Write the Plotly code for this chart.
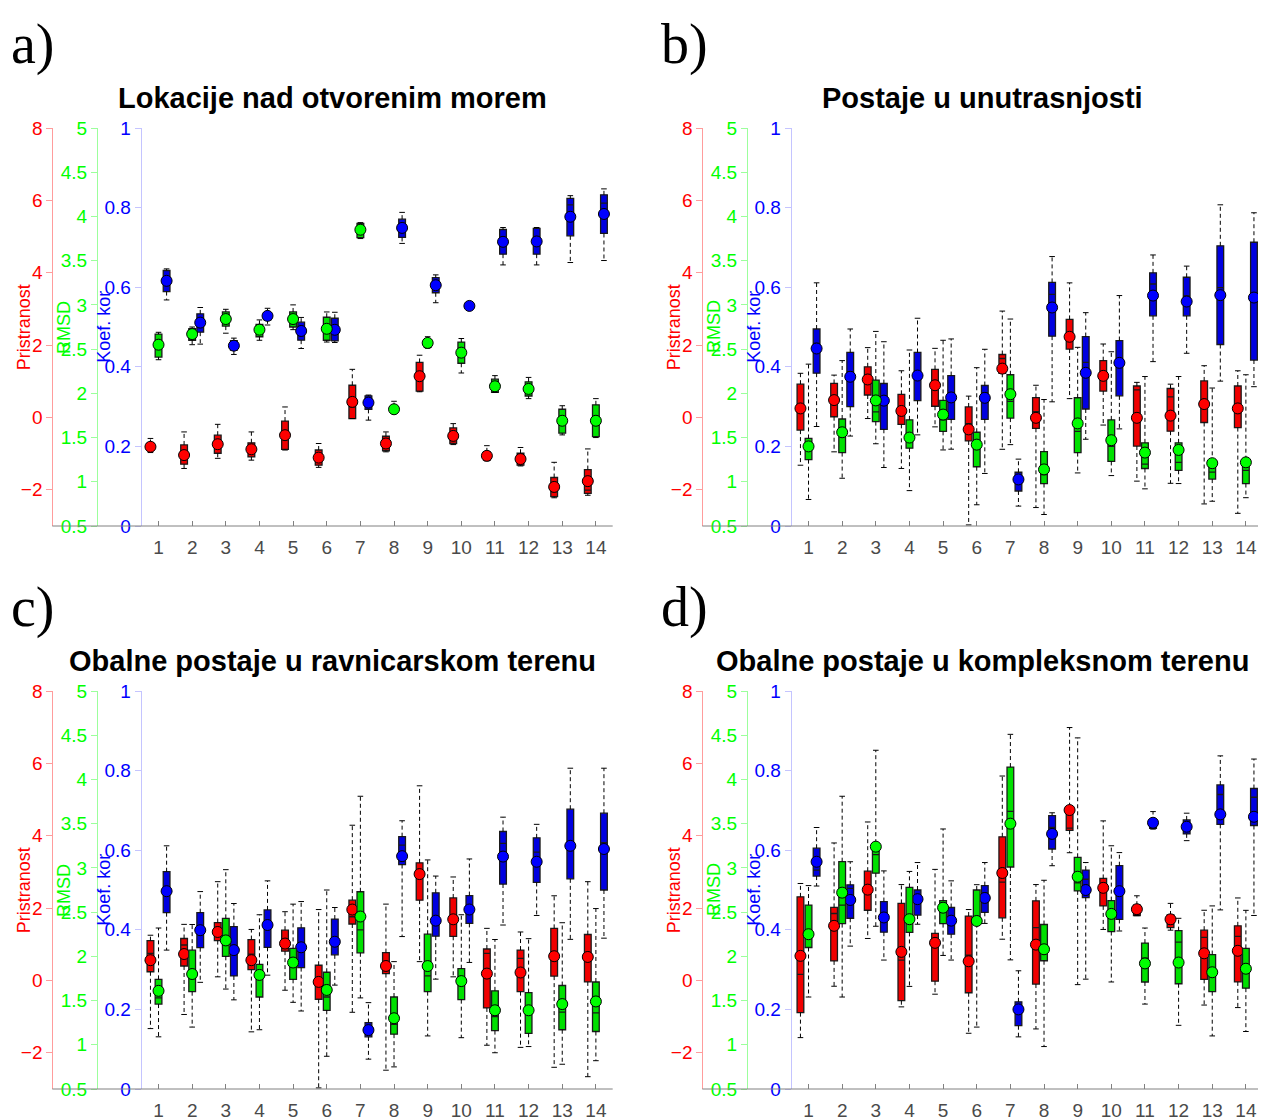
import plotly.graph_objects as go

W, H = 1266, 1120
PAGE_PAD = 8            # default body margin of the html page
FIG_W, FIG_H = W - PAGE_PAD, H - PAGE_PAD

STATIONS = list(range(1, 15))
PANEL_LETTERS = ["a)", "b)", "c)", "d)"]
PANEL_TITLES = [
    "Lokacije nad otvorenim morem",
    "Postaje u unutrasnjosti",
    "Obalne postaje u ravnicarskom terenu",
    "Obalne postaje u kompleksnom terenu",
]
AXIS_TITLES = ["Pristranost", "RMSD", "Koef. kor"]
AXIS_RANGES = [(-3, 8), (0.5, 5), (0, 1)]
AXIS_TICKS = [
    [-2, 0, 2, 4, 6, 8],
    [0.5, 1, 1.5, 2, 2.5, 3, 3.5, 4, 4.5, 5],
    [0, 0.2, 0.4, 0.6, 0.8, 1],
]

# ---- a) Lokacije nad otvorenim morem --------------------------------------
A_BIAS_LO = [-0.97, -1.41, -1.13, -1.18, -0.90, -1.38, -0.03, -0.95, 0.71, -0.75, -1.20, -1.34, -2.22, -2.15]
A_BIAS_Q1 = [-0.90, -1.29, -0.99, -1.09, -0.88, -1.32, -0.03, -0.92, 0.73, -0.72, -1.18, -1.32, -2.19, -2.10]
A_BIAS_MED = [-0.83, -1.13, -0.76, -0.90, -0.58, -1.13, 0.29, -0.75, 1.08, -0.49, -1.09, -1.13, -2.05, -2.01]
A_BIAS_Q3 = [-0.72, -0.76, -0.49, -0.70, -0.10, -0.90, 0.89, -0.52, 1.52, -0.29, -0.95, -0.99, -1.66, -1.44]
A_BIAS_HI = [-0.58, -0.40, -0.19, -0.40, 0.29, -0.72, 1.33, -0.40, 1.72, -0.17, -0.78, -0.83, -1.24, -0.87]
A_BIAS_MEAN = [-0.81, -1.04, -0.74, -0.88, -0.49, -1.11, 0.43, -0.72, 1.14, -0.51, -1.06, -1.15, -1.92, -1.76]

A_RMSD_LO = [2.38, 2.55, 2.68, 2.60, 2.72, 2.58, 3.75, 1.79, 2.51, 2.23, 2.01, 1.94, 1.53, 1.50]
A_RMSD_Q1 = [2.41, 2.60, 2.76, 2.64, 2.75, 2.60, 3.76, 1.79, 2.52, 2.34, 2.01, 1.97, 1.55, 1.51]
A_RMSD_MED = [2.57, 2.69, 2.85, 2.70, 2.82, 2.77, 3.84, 1.82, 2.56, 2.47, 2.08, 2.06, 1.70, 1.68]
A_RMSD_Q3 = [2.67, 2.73, 2.92, 2.78, 2.92, 2.86, 3.92, 1.85, 2.60, 2.58, 2.16, 2.13, 1.82, 1.87]
A_RMSD_HI = [2.69, 2.75, 2.95, 2.83, 3.00, 2.92, 3.93, 1.91, 2.64, 2.62, 2.20, 2.18, 1.86, 1.94]
A_RMSD_MEAN = [2.55, 2.67, 2.84, 2.72, 2.84, 2.73, 3.85, 1.82, 2.57, 2.46, 2.08, 2.05, 1.69, 1.69]

A_CORR_LO = [0.568, 0.457, 0.431, 0.505, 0.446, 0.461, 0.266, 0.710, 0.561, 0.553, 0.656, 0.656, 0.662, 0.667]
A_CORR_Q1 = [0.589, 0.487, 0.442, 0.518, 0.467, 0.465, 0.293, 0.725, 0.586, 0.553, 0.683, 0.683, 0.729, 0.735]
A_CORR_MED = [0.622, 0.509, 0.452, 0.526, 0.488, 0.497, 0.317, 0.750, 0.601, 0.553, 0.714, 0.727, 0.807, 0.811]
A_CORR_Q3 = [0.642, 0.533, 0.466, 0.536, 0.512, 0.522, 0.327, 0.771, 0.624, 0.553, 0.745, 0.748, 0.823, 0.832]
A_CORR_HI = [0.646, 0.549, 0.472, 0.547, 0.524, 0.537, 0.329, 0.788, 0.631, 0.553, 0.750, 0.750, 0.830, 0.847]
A_CORR_MEAN = [0.616, 0.511, 0.453, 0.528, 0.490, 0.493, 0.310, 0.749, 0.605, 0.553, 0.714, 0.715, 0.777, 0.784]

# ---- b) Postaje u unutrasnjosti -------------------------------------------
B_BIAS_LO = [-1.32, -0.95, -0.03, -1.41, -0.26, -2.97, -0.88, -2.49, 0.52, -0.21, -1.76, -1.82, -2.39, -2.65]
B_BIAS_Q1 = [-0.35, 0.02, 0.62, -0.19, 0.31, -0.65, 1.22, -0.30, 1.89, 0.73, -0.79, -0.38, -0.14, -0.28]
B_BIAS_MED = [0.25, 0.48, 1.17, 0.20, 0.85, -0.17, 1.63, 0.16, 2.23, 1.17, 0.76, 0.57, 0.39, 0.27]
B_BIAS_Q3 = [0.92, 0.94, 1.40, 0.64, 1.33, 0.29, 1.74, 0.55, 2.71, 1.57, 0.87, 0.80, 1.01, 0.87]
B_BIAS_HI = [1.22, 1.17, 1.93, 1.29, 1.91, 0.59, 2.94, 0.89, 3.72, 2.03, 0.97, 0.92, 1.43, 1.29]
B_BIAS_MEAN = [0.25, 0.48, 1.05, 0.18, 0.89, -0.33, 1.35, -0.01, 2.23, 1.15, -0.01, 0.05, 0.37, 0.25]

B_RMSD_LO = [0.80, 1.04, 1.43, 0.90, 1.36, 0.74, 1.42, 0.63, 1.10, 1.07, 0.92, 0.98, 0.78, 0.82]
B_RMSD_Q1 = [1.25, 1.33, 1.68, 1.38, 1.57, 1.17, 1.72, 0.98, 1.33, 1.23, 1.15, 1.13, 1.03, 0.98]
B_RMSD_MED = [1.40, 1.51, 1.79, 1.49, 1.70, 1.42, 1.91, 1.08, 1.57, 1.40, 1.20, 1.22, 1.11, 1.13]
B_RMSD_Q3 = [1.49, 1.71, 2.15, 1.70, 1.92, 1.56, 2.21, 1.34, 1.95, 1.70, 1.44, 1.44, 1.22, 1.25]
B_RMSD_HI = [2.33, 2.37, 2.70, 2.49, 2.60, 2.29, 2.84, 1.93, 2.52, 2.47, 2.19, 2.19, 2.06, 2.21]
B_RMSD_MEAN = [1.40, 1.56, 1.92, 1.50, 1.76, 1.42, 1.99, 1.14, 1.66, 1.47, 1.33, 1.36, 1.21, 1.22]

B_CORR_LO = [0.250, 0.226, 0.147, 0.229, 0.193, 0.132, 0.050, 0.312, 0.218, 0.244, 0.413, 0.434, 0.364, 0.350]
B_CORR_Q1 = [0.384, 0.300, 0.243, 0.315, 0.268, 0.268, 0.088, 0.477, 0.294, 0.327, 0.528, 0.528, 0.456, 0.417]
B_CORR_MED = [0.459, 0.388, 0.317, 0.379, 0.333, 0.335, 0.124, 0.582, 0.411, 0.410, 0.608, 0.578, 0.599, 0.574]
B_CORR_Q3 = [0.495, 0.436, 0.358, 0.436, 0.378, 0.353, 0.135, 0.612, 0.476, 0.466, 0.636, 0.625, 0.704, 0.713]
B_CORR_HI = [0.611, 0.495, 0.463, 0.522, 0.470, 0.444, 0.168, 0.677, 0.536, 0.579, 0.681, 0.653, 0.807, 0.787]
B_CORR_MEAN = [0.446, 0.375, 0.315, 0.378, 0.323, 0.322, 0.117, 0.549, 0.385, 0.410, 0.579, 0.564, 0.580, 0.574]

# ---- c) Obalne postaje u ravnicarskom terenu ------------------------------
C_BIAS_LO = [-1.33, -0.94, 0.10, -1.42, -0.27, -2.97, -0.88, -2.48, 0.52, 0.10, -1.79, -1.85, -2.40, -2.66]
C_BIAS_Q1 = [0.24, 0.40, 1.10, 0.30, 0.81, -0.52, 1.56, 0.19, 2.22, 1.22, -0.76, -0.31, 0.12, -0.04]
C_BIAS_MED = [0.75, 0.98, 1.30, 0.73, 1.02, -0.13, 1.76, 0.49, 2.94, 1.69, 0.75, 0.61, 0.67, 0.65]
C_BIAS_Q3 = [1.10, 1.16, 1.60, 1.13, 1.39, 0.42, 2.22, 0.77, 3.25, 2.28, 0.87, 0.84, 1.44, 1.27]
C_BIAS_HI = [1.25, 1.55, 2.73, 1.41, 1.90, 1.96, 4.29, 2.11, 5.38, 2.86, 1.44, 1.34, 2.34, 2.73]
C_BIAS_MEAN = [0.56, 0.73, 1.34, 0.56, 1.02, -0.04, 1.96, 0.40, 2.94, 1.69, 0.19, 0.22, 0.67, 0.65]

C_RMSD_LO = [1.09, 1.20, 1.63, 1.17, 1.48, 0.87, 1.53, 0.75, 1.10, 1.08, 0.91, 0.98, 0.78, 0.82]
C_RMSD_Q1 = [1.46, 1.60, 2.00, 1.54, 1.74, 1.39, 2.04, 1.12, 1.60, 1.51, 1.16, 1.13, 1.17, 1.15]
C_RMSD_MED = [1.53, 1.80, 2.18, 1.80, 1.93, 1.54, 2.30, 1.23, 1.78, 1.72, 1.32, 1.39, 1.37, 1.36]
C_RMSD_Q3 = [1.74, 2.07, 2.43, 1.91, 2.09, 1.82, 2.73, 1.54, 2.25, 1.86, 1.61, 1.59, 1.67, 1.71]
C_RMSD_HI = [2.32, 2.36, 2.98, 2.47, 2.59, 2.75, 3.81, 1.94, 3.09, 2.47, 2.19, 2.20, 2.38, 2.54]
C_RMSD_MEAN = [1.61, 1.80, 2.18, 1.79, 1.93, 1.62, 2.45, 1.30, 1.89, 1.72, 1.39, 1.39, 1.46, 1.49]

C_CORR_LO = [0.349, 0.268, 0.224, 0.286, 0.196, 0.261, 0.075, 0.383, 0.276, 0.318, 0.412, 0.436, 0.376, 0.379]
C_CORR_Q1 = [0.443, 0.355, 0.284, 0.356, 0.305, 0.337, 0.131, 0.564, 0.384, 0.416, 0.515, 0.519, 0.528, 0.500]
C_CORR_MED = [0.497, 0.401, 0.349, 0.412, 0.356, 0.370, 0.138, 0.613, 0.423, 0.451, 0.617, 0.595, 0.611, 0.619]
C_CORR_Q3 = [0.546, 0.443, 0.408, 0.450, 0.405, 0.427, 0.167, 0.634, 0.493, 0.486, 0.647, 0.631, 0.703, 0.693]
C_CORR_HI = [0.611, 0.496, 0.466, 0.523, 0.471, 0.456, 0.217, 0.674, 0.535, 0.578, 0.683, 0.665, 0.806, 0.806]
C_CORR_MEAN = [0.497, 0.399, 0.349, 0.412, 0.356, 0.370, 0.148, 0.585, 0.423, 0.451, 0.584, 0.571, 0.611, 0.603]

# ---- d) Obalne postaje u kompleksnom terenu -------------------------------
D_BIAS_LO = [-1.58, -0.16, 1.16, -0.73, -0.38, -1.46, 1.14, -1.34, 3.53, 1.41, 1.79, 1.39, -0.68, -0.75]
D_BIAS_Q1 = [-0.89, 0.54, 1.94, -0.56, -0.02, -0.34, 1.73, -0.10, 4.15, 2.06, 1.79, 1.46, 0.03, -0.04]
D_BIAS_MED = [0.17, 1.85, 2.51, 0.56, 1.04, 0.70, 2.72, 1.46, 4.21, 2.68, 1.85, 1.55, 1.19, 1.22]
D_BIAS_Q3 = [2.31, 2.02, 3.02, 2.13, 1.30, 1.78, 3.97, 2.20, 4.80, 2.82, 2.08, 1.81, 1.39, 1.51]
D_BIAS_HI = [2.68, 3.80, 4.38, 2.65, 3.07, 1.96, 5.65, 2.65, 6.99, 4.41, 2.34, 2.13, 1.94, 2.28]
D_BIAS_MEAN = [0.68, 1.51, 2.51, 0.79, 1.04, 0.53, 2.97, 0.99, 4.71, 2.56, 1.97, 1.69, 0.75, 0.82]

D_RMSD_LO = [1.54, 1.54, 2.34, 1.66, 2.01, 1.20, 1.96, 0.98, 1.68, 1.71, 1.46, 1.22, 1.10, 1.15]
D_RMSD_Q1 = [2.10, 2.37, 2.94, 2.27, 2.37, 2.37, 3.01, 1.95, 2.74, 2.28, 1.71, 1.69, 1.60, 1.64]
D_RMSD_MED = [2.25, 2.58, 3.15, 2.42, 2.51, 2.40, 3.64, 2.08, 2.83, 2.43, 1.98, 2.16, 1.82, 1.86]
D_RMSD_Q3 = [2.58, 3.07, 3.20, 2.78, 2.63, 2.75, 4.14, 2.36, 3.12, 2.63, 2.15, 2.29, 2.02, 2.09]
D_RMSD_HI = [2.80, 3.81, 4.33, 2.96, 3.44, 2.81, 4.51, 2.86, 4.47, 3.25, 2.32, 2.43, 2.57, 2.52]
D_RMSD_MEAN = [2.25, 2.72, 3.24, 2.42, 2.55, 2.40, 3.50, 2.08, 2.90, 2.48, 1.92, 1.93, 1.82, 1.86]

D_CORR_LO = [0.510, 0.359, 0.324, 0.414, 0.324, 0.416, 0.131, 0.561, 0.276, 0.397, 0.653, 0.624, 0.450, 0.436]
D_CORR_Q1 = [0.535, 0.429, 0.394, 0.437, 0.389, 0.444, 0.159, 0.603, 0.481, 0.426, 0.655, 0.641, 0.665, 0.662]
D_CORR_MED = [0.550, 0.504, 0.431, 0.477, 0.423, 0.492, 0.200, 0.657, 0.527, 0.497, 0.661, 0.659, 0.740, 0.733]
D_CORR_Q3 = [0.605, 0.513, 0.471, 0.500, 0.456, 0.511, 0.219, 0.687, 0.550, 0.561, 0.672, 0.676, 0.764, 0.755]
D_CORR_HI = [0.657, 0.571, 0.548, 0.569, 0.523, 0.569, 0.297, 0.694, 0.569, 0.594, 0.697, 0.693, 0.837, 0.829]
D_CORR_MEAN = [0.571, 0.475, 0.431, 0.477, 0.423, 0.480, 0.200, 0.641, 0.500, 0.497, 0.669, 0.659, 0.690, 0.684]

PANELS = [
    [
        (A_BIAS_LO, A_BIAS_Q1, A_BIAS_MED, A_BIAS_Q3, A_BIAS_HI, A_BIAS_MEAN),
        (A_RMSD_LO, A_RMSD_Q1, A_RMSD_MED, A_RMSD_Q3, A_RMSD_HI, A_RMSD_MEAN),
        (A_CORR_LO, A_CORR_Q1, A_CORR_MED, A_CORR_Q3, A_CORR_HI, A_CORR_MEAN),
    ],
    [
        (B_BIAS_LO, B_BIAS_Q1, B_BIAS_MED, B_BIAS_Q3, B_BIAS_HI, B_BIAS_MEAN),
        (B_RMSD_LO, B_RMSD_Q1, B_RMSD_MED, B_RMSD_Q3, B_RMSD_HI, B_RMSD_MEAN),
        (B_CORR_LO, B_CORR_Q1, B_CORR_MED, B_CORR_Q3, B_CORR_HI, B_CORR_MEAN),
    ],
    [
        (C_BIAS_LO, C_BIAS_Q1, C_BIAS_MED, C_BIAS_Q3, C_BIAS_HI, C_BIAS_MEAN),
        (C_RMSD_LO, C_RMSD_Q1, C_RMSD_MED, C_RMSD_Q3, C_RMSD_HI, C_RMSD_MEAN),
        (C_CORR_LO, C_CORR_Q1, C_CORR_MED, C_CORR_Q3, C_CORR_HI, C_CORR_MEAN),
    ],
    [
        (D_BIAS_LO, D_BIAS_Q1, D_BIAS_MED, D_BIAS_Q3, D_BIAS_HI, D_BIAS_MEAN),
        (D_RMSD_LO, D_RMSD_Q1, D_RMSD_MED, D_RMSD_Q3, D_RMSD_HI, D_RMSD_MEAN),
        (D_CORR_LO, D_CORR_Q1, D_CORR_MED, D_CORR_Q3, D_CORR_HI, D_CORR_MEAN),
    ],
]

TXT = ["#ff0000", "#00ff00", "#0000ff"]
BOX_FILL = ["#f00000", "#00e000", "#0000e0"]
DOT = ["#ff0000", "#00ff00", "#0000ff"]
AXLINE = ["#ff9c9c", "#9cff9c", "#c4c4ff"]
OFFSETS = [-0.24, 0.0, 0.24]
BOX_W = 0.2

FONT = "Liberation Sans"

# page-pixel geometry of the 2x2 layout (red axis x, top / bottom y)
COL_X = [52.3, 702.3]
ROW_Y = [(128, 526), (691, 1089)]
AX_STEP = 44.7          # spacing between the three stacked left axes
PLOT_W = 560.4          # red axis -> right edge


def fx(x):
    return (x - PAGE_PAD) / FIG_W


def fy(y):
    return 1 - (y - PAGE_PAD) / FIG_H


fig = go.Figure()
layout = {}
annotations = []
shapes = []

for p, series in enumerate(PANELS):
    x0 = COL_X[p % 2]
    ytop, ybot = ROW_Y[p // 2]
    xid = "x" if p == 0 else f"x{p + 1}"
    yids = [f"y{3 * p + k + 1}" if 3 * p + k else "y" for k in range(3)]
    base = yids[2]

    for k in range(3):
        ax = dict(
            domain=[fy(ybot), fy(ytop)],
            range=list(AXIS_RANGES[k]),
            tickvals=AXIS_TICKS[k],
            tickfont=dict(family=FONT, size=19, color=TXT[k]),
            ticks="outside", ticklen=6, tickcolor=AXLINE[k], tickwidth=1,
            showline=True, linecolor=AXLINE[k], linewidth=1,
            showgrid=False, zeroline=False, automargin=False, side="left",
        )
        if k == 2:
            ax.update(anchor=xid)
        else:
            ax.update(anchor="free", overlaying=base, position=fx(x0 + k * AX_STEP))
        name = "yaxis" if yids[k] == "y" else "yaxis" + yids[k][1:]
        layout[name] = ax

        annotations.append(dict(
            text=AXIS_TITLES[k], xref="paper", yref="paper",
            x=fx(x0 + k * AX_STEP - 28 - 5 * k), y=fy((ytop + ybot) / 2),
            textangle=-90, showarrow=False, xanchor="center", yanchor="middle",
            font=dict(family=FONT, size=18, color=TXT[k]),
        ))

    layout["xaxis" if p == 0 else f"xaxis{p + 1}"] = dict(
        domain=[fx(x0 + 2 * AX_STEP), fx(x0 + PLOT_W)],
        anchor=base, range=[0.5, 14.5],
        tickvals=STATIONS, ticktext=[str(s) for s in STATIONS],
        ticks="inside", ticklen=5, tickcolor="#808080",
        tickfont=dict(family=FONT, size=19, color="#4a4a4a"),
        ticklabelstandoff=8,
        showline=False, showgrid=False, zeroline=False, automargin=False,
    )
    shapes.append(dict(
        type="line", xref="paper", yref="paper",
        x0=fx(x0), x1=fx(x0 + PLOT_W), y0=fy(ybot), y1=fy(ybot),
        line=dict(color="#808080", width=1),
    ))

    annotations.append(dict(
        text="<b>" + PANEL_TITLES[p] + "</b>", xref="paper", yref="paper",
        x=fx(x0 + PLOT_W / 2), y=fy(ytop - 30), showarrow=False,
        xanchor="center", yanchor="middle",
        font=dict(family=FONT, size=29, color="black"),
    ))
    annotations.append(dict(
        text=PANEL_LETTERS[p], xref="paper", yref="paper",
        x=fx(x0 - 43), y=fy(ytop - 84), showarrow=False,
        xanchor="left", yanchor="middle",
        font=dict(family="Liberation Serif", size=56, color="black"),
    ))

    for k, (lo, q1, med, q3, hi, mean) in enumerate(series):
        xs = [s + OFFSETS[k] for s in STATIONS]
        wx, wy = [], []
        for x, a, b, c, d in zip(xs, lo, q1, q3, hi):
            wx += [x, x, None, x, x, None]
            wy += [c, d, None, b, a, None]
        fig.add_trace(go.Scatter(
            x=wx, y=wy, mode="lines", xaxis=xid, yaxis=yids[k],
            line=dict(color="black", width=1, dash="4px,3px"),
            hoverinfo="skip", showlegend=False,
        ))
        fig.add_trace(go.Scatter(
            x=xs + xs, y=list(hi) + list(lo), mode="markers", xaxis=xid, yaxis=yids[k],
            marker=dict(symbol="line-ew", size=4, line=dict(color="black", width=1)),
            hoverinfo="skip", showlegend=False,
        ))
        fig.add_trace(go.Box(
            x=xs, q1=q1, median=med, q3=q3, lowerfence=q1, upperfence=q3,
            width=BOX_W, whiskerwidth=0, boxpoints=False,
            fillcolor=BOX_FILL[k], line=dict(color="#1a1a1a", width=1.3),
            xaxis=xid, yaxis=yids[k], showlegend=False, hoverinfo="skip",
        ))
        fig.add_trace(go.Scatter(
            x=xs, y=mean, mode="markers", xaxis=xid, yaxis=yids[k],
            marker=dict(size=11, color=DOT[k], line=dict(color="black", width=1)),
            hoverinfo="skip", showlegend=False,
        ))

fig.update_layout(
    width=FIG_W, height=FIG_H,
    margin=dict(l=0, r=0, t=0, b=0),
    plot_bgcolor="white", paper_bgcolor="white",
    boxmode="overlay",
    annotations=annotations, shapes=shapes,
    **layout,
)

fig.write_html("out.html")
